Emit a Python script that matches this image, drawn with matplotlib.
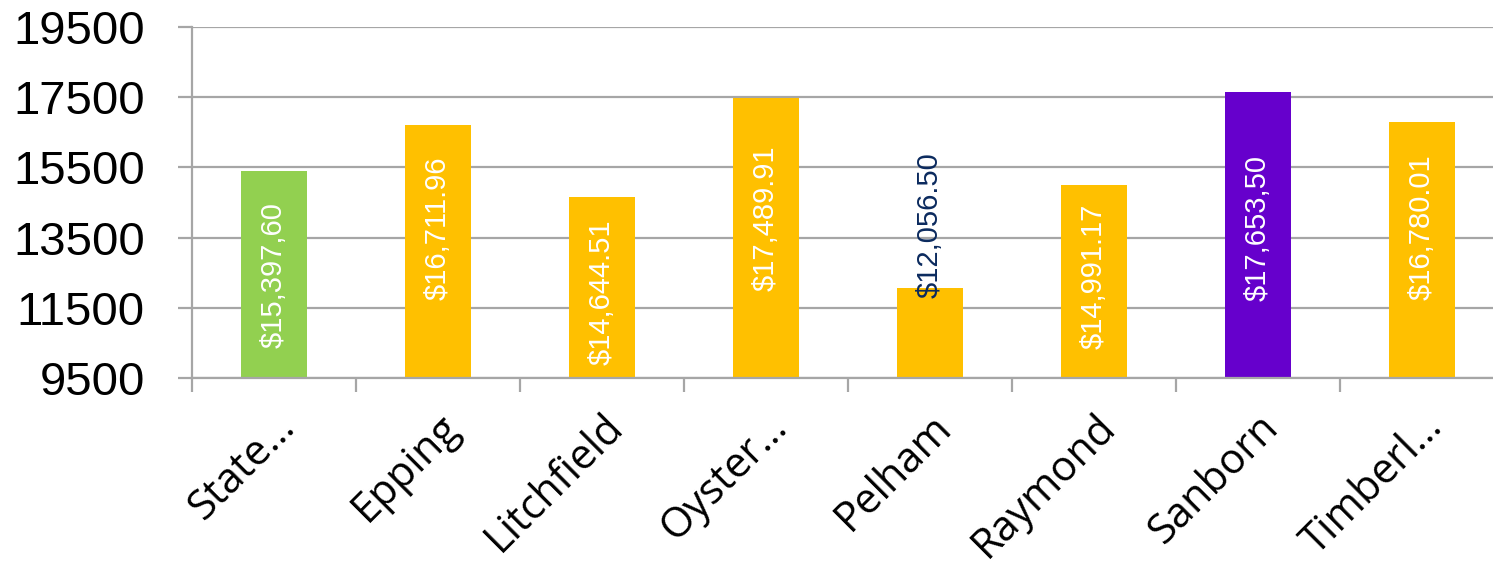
import matplotlib
matplotlib.use("Agg")
import matplotlib.pyplot as plt

# dados do gráfico
categorias = ["State…", "Epping", "Litchfield", "Oyster…", "Pelham", "Raymond", "Sanborn", "Timberl…"]
valores = [15397.60, 16711.96, 14644.51, 17489.91, 12056.50, 14991.17, 17653.50, 16780.01]
rotulos = ["$15,397,60", "$16,711.96", "$14,644.51", "$17,489.91", "$12,056.50",
           "$14,991.17", "$17,653,50", "$16,780.01"]
# posição (centro) de cada rótulo
pos_rotulos = [12430, 13770, 11950, 14060, 13860, 12400, 13770, 13800]
cores = ["#92D050", "#FFC000", "#FFC000", "#FFC000", "#FFC000", "#FFC000", "#6600CC", "#FFC000"]
cores_rotulos = ["white", "white", "white", "white", "#0B2A5E", "white", "white", "white"]
yticks = [9500, 11500, 13500, 15500, 17500, 19500]

fig = plt.figure(figsize=(14.93, 5.70), dpi=100)
ax = fig.add_axes([192 / 1493, 1 - 378 / 570, 1312 / 1493, 351 / 570])

x = list(range(len(categorias)))
ax.bar(x, valores, width=0.4, color=cores, zorder=3)

ax.set_ylim(9500, 19500)
ax.set_xlim(-0.5, len(categorias) - 0.5)
ax.set_yticks(yticks)
ax.set_yticklabels([str(v) for v in yticks], fontsize=34, family="Liberation Sans")
ax.yaxis.grid(True, color="#a6a6a6", linewidth=1.6, zorder=0)
ax.tick_params(axis="y", length=10, width=1.6, color="#a6a6a6", pad=24)

# ticks nas divisões entre categorias
ax.set_xticks([i - 0.5 for i in range(len(categorias) + 1)])
ax.set_xticklabels([])
ax.set_xticks(x, minor=True)
ax.set_xticklabels(categorias, minor=True, rotation=45, ha="right", va="top",
                   rotation_mode="anchor", fontsize=30, family="Open Sans")
ax.tick_params(axis="x", which="major", length=10, width=1.6, color="#a6a6a6")
ax.tick_params(axis="x", which="minor", length=0, pad=20)

for s in ["top", "right"]:
    ax.spines[s].set_visible(False)
for s in ["left", "bottom"]:
    ax.spines[s].set_color("#a6a6a6")
    ax.spines[s].set_linewidth(1.6)
    ax.spines[s].set_zorder(4)

for i, (r, p, c) in enumerate(zip(rotulos, pos_rotulos, cores_rotulos)):
    ax.text(i, p, r, rotation=90, ha="center", va="center", color=c,
            fontsize=21, family="Liberation Sans", zorder=5)

fig.savefig("out.png", dpi=100)
